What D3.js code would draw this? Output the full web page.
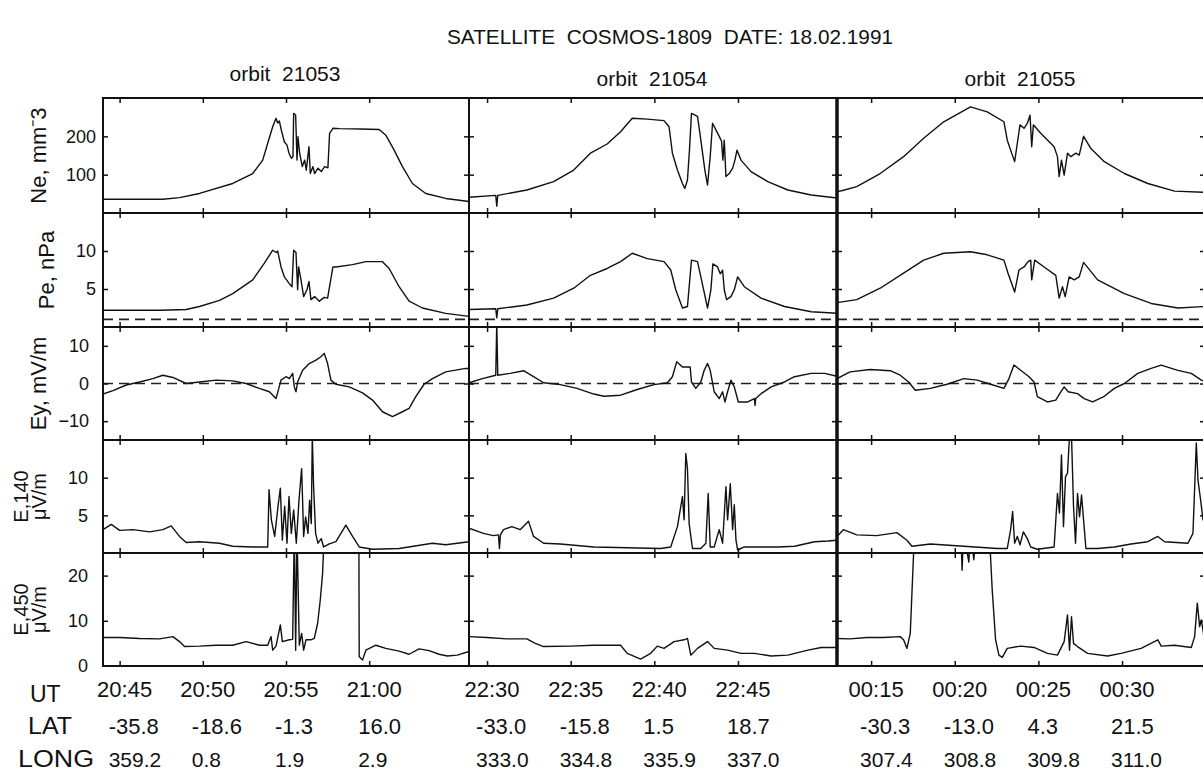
<!DOCTYPE html>
<html>
<head>
<meta charset="utf-8">
<script src="https://cdn.jsdelivr.net/npm/d3@7"></script>
<style>
  body { margin: 0; background: #fff; }
  svg text { font-family: "Liberation Sans", Arial, Helvetica, sans-serif; fill: #111; white-space: pre; }
</style>
</head>
<body>
<svg id="chart" width="1203" height="773"></svg>
<script>
// ---- chart data ----
const title = 'SATELLITE  COSMOS-1809  DATE: 18.02.1991';
const orbits = ['orbit  21053', 'orbit  21054', 'orbit  21055'];
// start of each orbit window, minutes of day; each window is 22 minutes long
const orbitStart = [20 * 60 + 44, 22 * 60 + 28.92, 12.96];
const utTicks = [
  ['20:45', '20:50', '20:55', '21:00'],
  ['22:30', '22:35', '22:40', '22:45'],
  ['00:15', '00:20', '00:25', '00:30']
];
const latLabels = [
  ['-35.8', '-18.6', '-1.3', '16.0'],
  ['-33.0', '-15.8', '1.5', '18.7'],
  ['-30.3', '-13.0', '4.3', '21.5']
];
const longLabels = [
  ['359.2', '0.8', '1.9', '2.9'],
  ['333.0', '334.8', '335.9', '337.0'],
  ['307.4', '308.8', '309.8', '311.0']
];

// traces: [minutes since orbit window start, value]
const ne21053 = [[0,36],[3.6,36],[4.6,40],[5.8,51],[7.8,77],[9.0,103],[9.6,138],[9.9,182],[10.2,225],[10.4,247],[10.5,235],[10.6,240],[10.72,216],[10.9,186],[11.06,177],[11.18,156],[11.32,143],[11.42,147],[11.46,260],[11.58,255],[11.66,138],[11.72,199],[11.82,156],[11.98,121],[12.12,138],[12.22,112],[12.38,173],[12.46,103],[12.62,121],[12.72,103],[12.92,117],[13.12,108],[13.32,121],[13.52,118],[13.62,208],[13.82,221],[14.22,220],[15.5,219],[16.6,218],[17.0,203],[17.5,164],[18.0,121],[18.6,77],[19.4,51],[20.6,38],[22,30]];
const pe21053 = [[0,2.2],[3.5,2.2],[5.0,2.3],[5.8,2.7],[7.0,3.5],[7.8,4.4],[9.0,6.2],[9.7,8.4],[10.2,10.1],[10.4,9.8],[10.5,10.0],[10.7,7.9],[10.9,6.6],[11.2,5.7],[11.36,5.3],[11.46,10.1],[11.6,9.8],[11.7,4.9],[11.76,7.9],[11.9,6.2],[12.06,4.0],[12.26,4.9],[12.38,6.0],[12.5,3.6],[12.72,4.0],[13.0,3.4],[13.3,3.9],[13.5,3.8],[13.82,7.9],[14.0,7.9],[15.0,8.2],[15.8,8.6],[16.8,8.6],[17.2,7.7],[17.8,5.3],[18.4,3.4],[19.2,2.5],[20.6,1.8],[22,1.4]];
const ey21053 = [[0,-2.8],[0.6,-1.9],[1.4,-0.4],[2.2,0.4],[3.0,1.3],[3.6,2.2],[4.2,1.6],[5.0,0],[5.8,0.4],[6.8,0.9],[7.8,0.7],[8.6,0],[9.4,-1.3],[10.0,-2.2],[10.4,-4.0],[10.7,0.9],[11.0,1.8],[11.2,1.3],[11.4,2.7],[11.5,-0.9],[11.6,-2.2],[11.7,0.4],[12.0,3.5],[12.4,5.3],[12.8,6.2],[13.1,7.1],[13.3,8.0],[13.5,5.3],[13.7,0.9],[14.0,-0.2],[14.8,-0.9],[15.6,-2.5],[16.2,-4.4],[16.8,-7.5],[17.4,-8.8],[18.0,-7.5],[18.4,-6.6],[18.8,-3.5],[19.3,-0.2],[19.8,1.3],[20.6,3.1],[21.8,4.0],[22,4.0]];
const e140_21053 = [[0,3.1],[0.5,3.8],[1.0,3.0],[1.8,3.1],[2.8,2.8],[3.6,3.1],[4.1,3.6],[4.6,2.2],[5.0,1.4],[5.8,1.5],[7.0,1.3],[7.8,0.9],[9.0,0.8],[9.9,0.8],[9.98,8.4],[10.12,4.4],[10.32,2.2],[10.52,6.2],[10.66,8.6],[10.78,1.7],[10.92,6.2],[11.06,1.3],[11.18,7.5],[11.32,2.6],[11.46,5.7],[11.62,1.3],[11.78,7.0],[11.94,11.2],[12.06,2.2],[12.18,4.8],[12.32,2.6],[12.42,7.0],[12.52,3.9],[12.58,15.5],[12.66,8.8],[12.78,2.6],[12.92,1.3],[13.12,1.9],[13.26,0.8],[13.6,1.2],[14.0,1.5],[14.6,3.7],[15.0,2.2],[15.4,0.8],[16.2,0.5],[17.8,0.6],[19.8,1.3],[20.6,1.1],[22,1.5]];
const e450_21053 = [[0,6.3],[1.0,6.3],[2.2,6.1],[3.4,6.0],[4.2,6.5],[4.6,5.4],[4.9,4.3],[5.8,4.4],[6.8,4.6],[7.8,4.6],[8.6,5.4],[9.4,4.6],[9.9,4.6],[10.1,6.5],[10.2,3.5],[10.4,4.4],[10.66,9.1],[10.78,5.4],[11.2,5.8],[11.4,5.9],[11.5,30],[11.58,3.5],[11.66,30],[11.8,4.6],[11.94,7.2],[12.06,3.5],[12.2,5.8],[12.5,5.8],[12.7,6.1],[12.9,9.4],[13.06,14.6],[13.2,20.5],[13.3,30],[15.38,30],[15.4,2.1],[15.6,1.3],[15.8,3.5],[16.4,4.6],[17.0,3.9],[17.8,3.3],[18.4,2.6],[19.0,3.8],[19.6,3.4],[20.2,2.6],[20.7,2.2],[21.3,2.4],[22,3.2]];

const ne21054 = [[0,41],[1.6,46],[1.66,18],[1.72,46],[3.46,60],[5.06,82],[6.26,112],[7.26,156],[8.26,180],[9.06,212],[9.76,247],[10.66,245],[11.66,241],[11.96,225],[12.16,156],[12.46,112],[12.76,77],[12.9,64],[13.06,86],[13.18,164],[13.3,260],[13.66,252],[13.86,190],[14.1,112],[14.26,73],[14.42,147],[14.56,234],[14.76,217],[14.96,200],[15.1,187],[15.18,138],[15.26,190],[15.36,95],[15.56,103],[15.76,117],[15.9,138],[16.02,164],[16.26,138],[16.86,108],[17.86,82],[19.06,60],[20.46,47],[22,39]];
const pe21054 = [[0,2.3],[1.6,2.4],[1.66,1.2],[1.72,2.4],[3.46,2.9],[5.06,3.8],[6.26,5.1],[7.26,6.8],[8.26,7.7],[9.06,8.6],[9.76,9.7],[10.66,9.0],[11.66,8.6],[12.06,7.5],[12.36,4.9],[12.76,2.5],[13.06,2.7],[13.3,8.8],[13.66,8.6],[13.9,6.2],[14.26,2.5],[14.46,4.9],[14.58,8.3],[14.86,7.9],[15.02,7.0],[15.16,7.5],[15.26,4.9],[15.4,3.6],[15.66,4.0],[15.86,4.9],[16.06,6.6],[16.46,5.3],[17.46,3.8],[18.86,2.7],[20.46,2.0],[22,1.8]];
const ey21054 = [[0,0.2],[0.8,1.3],[1.6,2.2],[1.66,16],[1.72,2.2],[2.46,2.7],[3.26,3.4],[3.86,1.8],[4.46,0.2],[5.46,-0.3],[6.46,-1.3],[7.46,-2.8],[8.06,-3.4],[9.06,-3.1],[10.06,-1.6],[11.06,-0.3],[11.86,0.2],[12.16,1.8],[12.42,5.8],[12.76,4.4],[13.22,4.4],[13.3,0.4],[13.56,-1.3],[13.86,0.4],[14.06,3.5],[14.26,5.3],[14.42,3.5],[14.66,-2.2],[14.96,-4.0],[15.16,-2.2],[15.3,-4.9],[15.46,-2.2],[15.66,0.9],[15.86,-0.9],[16.1,-4.9],[16.66,-4.9],[17.06,-4.0],[17.1,-5.8],[17.14,-4.0],[17.46,-2.7],[18.06,-0.9],[18.86,0.4],[19.46,1.8],[20.46,2.7],[21.26,2.7],[22,1.9]];
const e140_21054 = [[0,3.3],[0.86,2.6],[1.46,2.3],[1.76,2.4],[1.82,0.6],[1.88,2.4],[2.06,3.1],[2.56,3.5],[3.06,3.1],[3.56,4.2],[3.86,2.2],[4.46,1.3],[5.46,1.2],[7.46,0.8],[9.46,0.7],[11.46,0.6],[12.06,0.8],[12.46,3.5],[12.76,7.5],[12.86,4.4],[12.96,13.2],[13.06,11.2],[13.16,3.9],[13.36,0.6],[13.86,0.6],[14.16,1.3],[14.3,7.9],[14.42,0.8],[14.66,0.8],[14.96,3.1],[15.16,1.3],[15.36,8.8],[15.46,4.4],[15.62,9.2],[15.76,3.1],[15.86,6.4],[15.96,1.7],[16.06,0.4],[16.46,0.8],[18.46,0.8],[19.46,0.9],[20.66,1.5],[21.46,1.6],[22,1.7]];
const e450_21054 = [[0,6.5],[1.06,6.3],[2.26,6.0],[3.46,6.0],[3.96,5.0],[4.46,4.3],[6.06,4.4],[7.46,4.6],[9.06,4.6],[9.46,2.8],[10.26,1.5],[10.86,2.8],[11.26,4.4],[11.66,3.9],[12.26,5.4],[12.86,5.8],[13.06,6.1],[13.26,2.4],[13.66,3.9],[14.26,5.4],[14.66,3.9],[15.46,3.5],[16.26,2.8],[17.06,2.8],[18.06,2.2],[19.06,2.4],[20.26,3.5],[21.06,4.1],[22,4.1]];

const ne21055 = [[0,56],[0.28,58],[1.18,69],[2.58,103],[3.98,147],[5.18,195],[6.38,238],[7.98,277],[8.98,264],[9.98,238],[10.18,190],[10.38,164],[10.62,134],[10.78,182],[10.94,230],[11.18,221],[11.38,234],[11.54,255],[11.64,173],[11.74,230],[12.18,208],[12.98,173],[13.18,147],[13.28,95],[13.42,138],[13.58,99],[13.78,156],[13.98,147],[14.28,156],[14.48,151],[14.74,200],[15.18,168],[15.98,134],[17.18,103],[18.58,77],[20.18,57],[22,54]];
const pe21055 = [[0,3.2],[1.18,3.6],[2.58,5.1],[3.98,7.1],[5.18,8.8],[6.38,9.7],[7.98,9.9],[8.98,9.5],[9.98,8.8],[10.22,7.1],[10.62,4.6],[10.88,7.5],[11.18,7.9],[11.42,8.6],[11.58,8.8],[11.64,6.2],[11.82,8.8],[12.38,7.9],[13.08,6.8],[13.28,3.8],[13.48,5.3],[13.64,4.0],[13.88,6.6],[14.18,6.2],[14.48,6.6],[14.74,8.5],[15.58,6.2],[17.18,4.4],[18.78,3.1],[20.38,2.5],[22,2.7]];
const ey21055 = [[0,1.3],[0.78,3.1],[1.98,3.7],[3.18,3.4],[3.78,2.2],[4.28,0.4],[4.68,-1.8],[5.58,-1.3],[6.58,-0.2],[7.58,1.3],[8.38,0.9],[9.18,-0.2],[9.98,-1.3],[10.28,1.3],[10.58,4.9],[10.98,3.5],[11.48,1.8],[11.78,0.4],[11.98,-3.5],[12.58,-4.9],[13.08,-4.4],[13.38,-2.2],[13.58,-0.9],[13.82,-2.2],[14.38,-2.7],[14.78,-4.0],[15.28,-4.9],[15.98,-3.4],[16.58,-1.3],[17.18,0],[17.98,2.7],[18.78,4.0],[19.38,4.9],[20.38,3.5],[21.18,2.7],[21.78,0.9],[22,0.5]];
const e140_21055 = [[0,2.2],[0.38,3.1],[1.18,2.4],[2.38,2.3],[3.58,2.7],[4.18,1.7],[4.48,0.9],[5.58,1.2],[7.58,0.9],[9.58,0.6],[10.18,0.6],[10.38,3.1],[10.5,5.5],[10.62,1.3],[10.78,2.2],[10.94,1.1],[11.14,2.8],[11.38,1.9],[11.58,0.8],[11.98,0.5],[12.98,0.8],[13.18,7.9],[13.3,5.3],[13.42,13.0],[13.54,3.5],[13.66,10.1],[13.78,10.6],[13.9,15.5],[14.02,15.5],[14.14,6.2],[14.26,1.3],[14.38,7.9],[14.5,4.8],[14.62,7.7],[14.74,4.4],[14.88,0.6],[15.58,0.6],[16.58,0.8],[17.58,1.2],[18.58,1.5],[19.18,2.2],[19.58,1.5],[20.98,1.3],[21.28,2.6],[21.48,14.6],[21.58,9.7],[21.74,7.0],[21.88,4.4],[22,6.0]];
const e450_21055 = [[0,6.1],[0.78,6.0],[1.78,6.3],[2.78,6.3],[3.78,6.5],[3.98,5.8],[4.18,3.9],[4.38,7.2],[4.58,25],[4.68,30],[7.4,30],[7.48,21.2],[7.56,30],[7.88,23.0],[7.98,30],[8.18,23.5],[8.3,30],[9.1,30],[9.28,16.8],[9.48,5.8],[9.68,2.4],[9.88,1.9],[10.18,3.9],[10.98,4.4],[11.78,4.1],[12.58,2.8],[13.18,2.4],[13.58,5.4],[13.78,11.3],[13.9,3.5],[14.02,10.9],[14.14,5.0],[14.38,4.3],[14.98,2.8],[16.18,2.2],[16.98,2.8],[18.18,3.9],[19.18,5.8],[19.38,4.4],[20.18,4.6],[21.18,4.1],[21.38,6.5],[21.54,13.9],[21.68,8.7],[21.78,10.2],[21.94,6.5]];

// rows of panels, one trace per orbit
const rows = [
  { title: ['Ne, mm\u207B3'], domain: [0, 300], ticks: [100, 200], series: [ne21053, ne21054, ne21055] },
  { title: ['Pe, nPa'], domain: [0, 15], ticks: [5, 10], ref: 1, series: [pe21053, pe21054, pe21055] },
  { title: ['Ey, mV/m'], domain: [-15, 15], ticks: [-10, 0, 10], ref: 0, series: [ey21053, ey21054, ey21055] },
  { title: ['E,140', '\u03BCV/m'], domain: [0, 15], ticks: [5, 10], series: [e140_21053, e140_21054, e140_21055] },
  { title: ['E,450', '\u03BCV/m'], domain: [0, 25], ticks: [0, 10, 20], series: [e450_21053, e450_21054, e450_21055] }
];

// ---- layout ----
const colX = [[103, 469], [469, 837], [837, 1205]];
const rowY = [98, 213, 327, 440, 553, 666];
const labelRight = [7, 7, 14, 15, 15];   // gap from frame to tick labels
const titleX = [[46], [54], [46], [28, 46], [28, 46]];

const svg = d3.select('#chart');
const toMin = s => { const [h, m] = s.split(':').map(Number); return h * 60 + m; };

svg.append('text')
  .attr('x', 670).attr('y', 44)
  .attr('text-anchor', 'middle')
  .attr('textLength', 446)
  .attr('lengthAdjust', 'spacingAndGlyphs')
  .style('font-size', '21px')
  .text(title);

const orbitLabelPos = [[285, 81], [652, 86], [1020, 86]];
orbits.forEach((o, c) => {
  svg.append('text')
    .attr('x', orbitLabelPos[c][0]).attr('y', orbitLabelPos[c][1])
    .attr('text-anchor', 'middle')
    .style('font-size', '21px')
    .text(o);
});

const defs = svg.append('defs');

orbits.forEach((o, c) => {
  const x = d3.scaleLinear().domain([0, 22]).range(colX[c]);
  const tickOffsets = utTicks[c].map(t => toMin(t) - orbitStart[c]);

  rows.forEach((row, r) => {
    const y = d3.scaleLinear().domain(row.domain).range([rowY[r + 1], rowY[r]]);
    const id = `clip-${c}-${r}`;
    defs.append('clipPath').attr('id', id)
      .append('rect')
      .attr('x', colX[c][0]).attr('y', rowY[r])
      .attr('width', colX[c][1] - colX[c][0]).attr('height', rowY[r + 1] - rowY[r]);

    const g = svg.append('g');

    if (row.ref !== undefined) {
      g.append('line')
        .attr('x1', colX[c][0]).attr('x2', colX[c][1])
        .attr('y1', y(row.ref)).attr('y2', y(row.ref))
        .attr('stroke', '#222')
        .attr('stroke-width', 1.6)
        .attr('stroke-dasharray', '10,6');
    }

    const line = d3.line().x(d => x(d[0])).y(d => y(d[1]));
    g.append('path')
      .datum(row.series[c])
      .attr('clip-path', `url(#${id})`)
      .attr('fill', 'none')
      .attr('stroke', '#111')
      .attr('stroke-width', 1.4)
      .attr('stroke-linejoin', 'round')
      .attr('d', line);

    // inward ticks on all four sides
    const yTicks = row.ticks.filter(v => v > row.domain[0] && v < row.domain[1]);
    g.append('g')
      .attr('transform', `translate(0,${rowY[r + 1]})`)
      .call(d3.axisBottom(x).tickValues(tickOffsets).tickSize(-5).tickFormat(''));
    g.append('g')
      .attr('transform', `translate(0,${rowY[r]})`)
      .call(d3.axisTop(x).tickValues(tickOffsets).tickSize(-5).tickFormat(''));
    g.append('g')
      .attr('transform', `translate(${colX[c][1]},0)`)
      .call(d3.axisRight(y).tickValues(yTicks).tickSize(-5).tickFormat(''));
    g.append('g')
      .attr('transform', `translate(${colX[c][0]},0)`)
      .call(d3.axisLeft(y).tickValues(yTicks).tickSize(-5).tickFormat(''));

    if (c === 0) {
      g.append('g')
        .attr('transform', `translate(${colX[c][0]},0)`)
        .call(d3.axisLeft(y).tickValues(row.ticks).tickSize(0).tickPadding(labelRight[r]))
        .call(a => a.select('.domain').remove())
        .selectAll('text')
        .style('font-size', '18px')
        .style('font-family', '"Liberation Sans", Arial, sans-serif')
        .attr('fill', '#111');

      row.title.forEach((t, i) => {
        g.append('text')
          .attr('transform', `translate(${titleX[r][i]},${(rowY[r] + rowY[r + 1]) / 2}) rotate(-90)`)
          .attr('text-anchor', 'middle')
          .style('font-size', row.title.length > 1 ? '20px' : '22px')
          .text(t);
      });
    }

    g.selectAll('.domain').remove();
    g.selectAll('.tick line').attr('stroke', '#111').attr('stroke-width', 1.5);

    g.append('rect')
      .attr('x', colX[c][0]).attr('y', rowY[r])
      .attr('width', colX[c][1] - colX[c][0]).attr('height', rowY[r + 1] - rowY[r])
      .attr('fill', 'none')
      .attr('stroke', '#111')
      .attr('stroke-width', 2);
  });

  // UT / LAT / LONG labels under the bottom row
  tickOffsets.forEach((off, i) => {
    const tx = x(off);
    svg.append('text')
      .attr('x', tx + 5).attr('y', 697)
      .attr('text-anchor', 'middle')
      .style('font-size', '22px')
      .text(utTicks[c][i]);
    svg.append('text')
      .attr('x', tx - 11).attr('y', 734)
      .style('font-size', '22px')
      .text(latLabels[c][i]);
    svg.append('text')
      .attr('x', tx - 11).attr('y', 767)
      .style('font-size', '21px')
      .text(longLabels[c][i]);
  });
});

// heavier divider between orbit 21054 and 21055
svg.append('line')
  .attr('x1', 837).attr('x2', 837)
  .attr('y1', rowY[0]).attr('y2', rowY[5])
  .attr('stroke', '#111')
  .attr('stroke-width', 3.5);

[['UT', 30, 702, 0], ['LAT', 28, 734, 44], ['LONG', 18, 767, 76]].forEach(([t, lx, ly, len]) => {
  const el = svg.append('text')
    .attr('x', lx).attr('y', ly)
    .style('font-size', '23px')
    .text(t);
  if (len) el.attr('textLength', len).attr('lengthAdjust', 'spacingAndGlyphs');
});
</script>
</body>
</html>
